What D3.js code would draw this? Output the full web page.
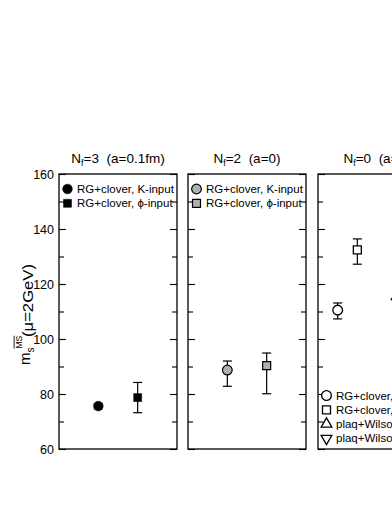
<!DOCTYPE html>
<html>
<head>
<meta charset="utf-8">
<script src="https://cdn.jsdelivr.net/npm/d3@7"></script>
<style>
  body { margin: 0; background: #fff; }
  text { font-family: "Liberation Sans", Arial, sans-serif; fill: #000; }
</style>
</head>
<body>
<div id="chart"></div>
<script>
const width = 392
const height = 508

// panel headers
const nfValues = ['3', '2', '0']
const spacings = ['(a=0.1fm)', '(a=0)', '(a=0)']
const xSlots = [3, 3, 6] // x domain width of each panel

// y axis
const yMajor = [60, 80, 100, 120, 140, 160]
const yMinor = [70, 90, 110, 130, 150]

// series: [panel, slot, value, lower, upper]
const rgK = [[0, 1, 75.6, 74.6, 76.6], [1, 1, 88.7, 82.8, 92.0], [2, 1, 110.5, 107.3, 113.1]]
const rgPhi = [[0, 2, 78.7, 73.2, 84.2], [1, 2, 90.3, 80.1, 94.9], [2, 2, 132.4, 127.2, 136.4]]
const plaqK = [[2, 4, 115.5, 112.5, 118.5]]
const plaqPhi = [[2, 5, 118.0, 114.0, 122.0]]

// legends per panel
const legend1 = ['RG+clover, K-input', 'RG+clover, \u03d5-input']
const legend2 = ['RG+clover, K-input', 'RG+clover, \u03d5-input']
const legend3 = ['RG+clover, K-input', 'RG+clover, \u03d5-input', 'plaq+Wilson, K-input', 'plaq+Wilson, \u03d5-input']

const panelLeft = [59, 188, 318]
const panelW = 118
const yTop = 174
const yBottom = 449

const svg = d3.select('#chart').append('svg')
  .attr('width', width)
  .attr('height', height)
  .style('background', '#fff')

const defs = svg.append('defs')
const pat = defs.append('pattern').attr('id', 'dots')
  .attr('width', 2).attr('height', 2).attr('patternUnits', 'userSpaceOnUse')
pat.append('rect').attr('width', 2).attr('height', 2).attr('fill', '#d8d8d8')
pat.append('rect').attr('width', 1).attr('height', 1).attr('fill', '#808080')
pat.append('rect').attr('x', 1).attr('y', 1).attr('width', 1).attr('height', 1).attr('fill', '#909090')

const y = d3.scaleLinear().domain([60, 160]).range([yBottom, yTop])
const xs = panelLeft.map((l, i) => d3.scaleLinear().domain([0, xSlots[i]]).range([l, l + panelW]))

panelLeft.forEach((left, i) => {
  const g = svg.append('g')

  // ticks inward on both sides
  const lMaj = g.append('g').attr('transform', `translate(${left},0)`)
    .call(d3.axisLeft(y).tickValues(yMajor).tickSize(-7).tickPadding(5)
      .tickFormat(i === 0 ? d3.format('d') : ''))
  lMaj.selectAll('text').style('font-size', '12.5px').attr('fill', '#000')
  g.append('g').attr('transform', `translate(${left},0)`)
    .call(d3.axisLeft(y).tickValues(yMinor).tickSize(-5).tickFormat(''))
  g.append('g').attr('transform', `translate(${left + panelW},0)`)
    .call(d3.axisRight(y).tickValues(yMajor).tickSize(-7).tickFormat(''))
  g.append('g').attr('transform', `translate(${left + panelW},0)`)
    .call(d3.axisRight(y).tickValues(yMinor).tickSize(-5).tickFormat(''))
  g.selectAll('.domain').remove()
  g.selectAll('.tick line').attr('stroke', '#000').attr('stroke-width', 1.1)

  g.append('rect')
    .attr('x', left).attr('y', yTop)
    .attr('width', panelW).attr('height', yBottom - yTop)
    .attr('fill', 'none').attr('stroke', '#000').attr('stroke-width', 1.3)

  // title
  const t = svg.append('text')
    .attr('x', left + panelW / 2).attr('y', 163)
    .attr('text-anchor', 'middle').style('font-size', '13.5px')
  t.append('tspan').text('N')
  t.append('tspan').attr('dy', 3).style('font-size', '9px').text('f')
  t.append('tspan').attr('dy', -3).text('=' + nfValues[i] + '\u00a0\u00a0' + spacings[i])
})

// markers
const sym = {
  circle: d3.symbol().type(d3.symbolCircle).size(74),
  square: d3.symbol().type(d3.symbolSquare).size(64),
  tri: d3.symbol().type(d3.symbolTriangle).size(50)
}

const fillFor = p => p === 0 ? { fill: '#000', sw: 0.5 } : p === 1 ? { fill: 'url(#dots)', sw: 1.2 } : { fill: '#fff', sw: 1.3 }

function drawSeries (data, shape, rot) {
  data.forEach(d => {
    const [p, slot, v, lo, hi] = d
    const cx = xs[p](slot)
    const eg = svg.append('g').attr('stroke', '#000').attr('stroke-width', 1.2)
    eg.append('line').attr('x1', cx).attr('x2', cx).attr('y1', y(lo)).attr('y2', y(hi))
    eg.append('line').attr('x1', cx - 4.5).attr('x2', cx + 4.5).attr('y1', y(lo)).attr('y2', y(lo))
    eg.append('line').attr('x1', cx - 4.5).attr('x2', cx + 4.5).attr('y1', y(hi)).attr('y2', y(hi))
    const st = fillFor(p)
    svg.append('path')
      .attr('d', shape())
      .attr('transform', `translate(${cx},${y(v)}) rotate(${rot || 0})`)
      .attr('fill', st.fill).attr('stroke', '#000').attr('stroke-width', st.sw)
  })
}

drawSeries(rgK, sym.circle)
drawSeries(rgPhi, sym.square)
drawSeries(plaqK, sym.tri)
drawSeries(plaqPhi, sym.tri, 180)

// legends
function drawLegend (labels, shapes, p, y0) {
  const left = panelLeft[p]
  const st = fillFor(p)
  labels.forEach((lab, k) => {
    const ly = y0 + k * 14.3
    svg.append('path')
      .attr('d', shapes[k][0]())
      .attr('transform', `translate(${left + 8.5},${ly}) rotate(${shapes[k][1]})`)
      .attr('fill', st.fill).attr('stroke', '#000').attr('stroke-width', st.sw)
    svg.append('text')
      .attr('x', left + 18).attr('y', ly + 4)
      .style('font-size', '11.5px')
      .text(lab)
  })
}
drawLegend(legend1, [[sym.circle, 0], [sym.square, 0]], 0, 189)
drawLegend(legend2, [[sym.circle, 0], [sym.square, 0]], 1, 189)
drawLegend(legend3, [[sym.circle, 0], [sym.square, 0], [sym.tri, 0], [sym.tri, 180]], 2, 395.5)

// y axis label
const yl = svg.append('g').attr('transform', 'rotate(-90)')
const lab = yl.append('text')
lab.append('tspan').attr('x', -365).attr('y', 29.5).style('font-size', '15px').text('m')
lab.append('tspan').attr('x', -352.5).attr('y', 34).style('font-size', '10px').text('s')
lab.append('tspan').attr('x', -348.5).attr('y', 21.7).style('font-size', '8.5px')
  .style('text-decoration', 'overline').text('MS')
lab.append('tspan').attr('x', -337).attr('y', 32.5).style('font-size', '14.5px')
  .attr('textLength', 73).attr('lengthAdjust', 'spacingAndGlyphs').text('(\u03bc=2GeV)')
</script>
</body>
</html>
